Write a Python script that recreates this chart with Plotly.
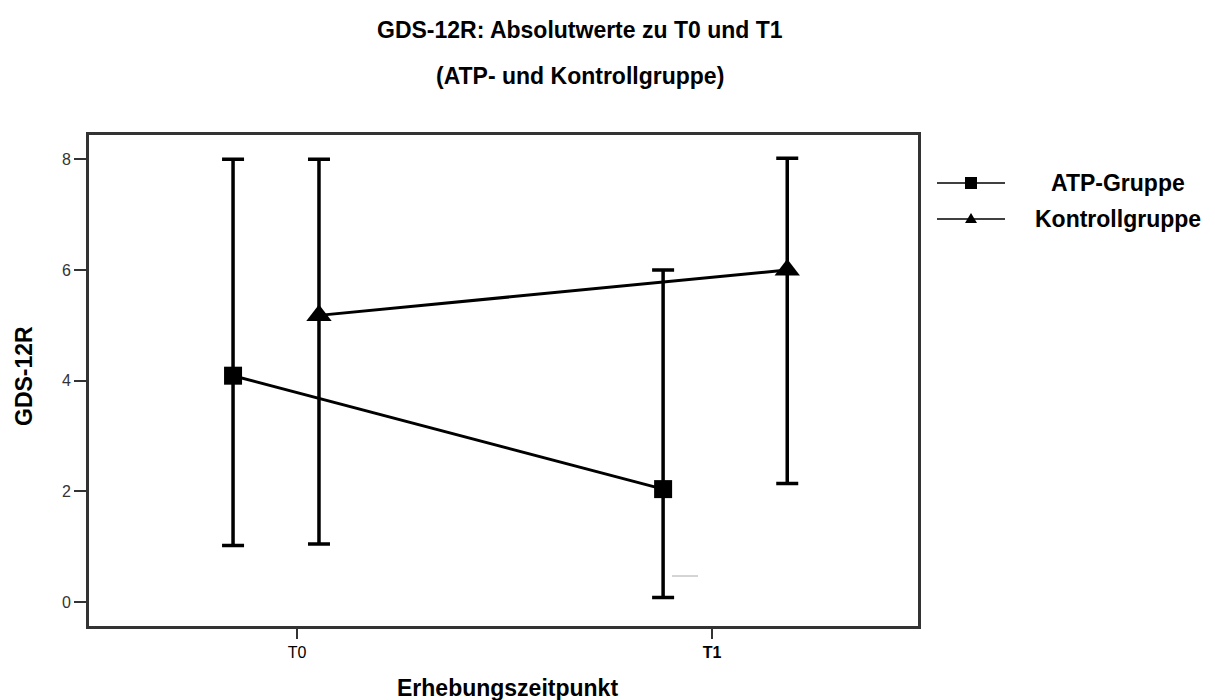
import plotly.graph_objects as go

# ---- data ----
zeitpunkte = ["T0", "T1"]
gruppen = ["ATP-Gruppe", "Kontrollgruppe"]
mittel = {"ATP-Gruppe": [4.09, 2.04], "Kontrollgruppe": [5.18, 6.0]}
untere = {"ATP-Gruppe": [1.02, 0.08], "Kontrollgruppe": [1.05, 2.14]}
obere = {"ATP-Gruppe": [8.0, 6.0], "Kontrollgruppe": [8.0, 8.02]}
y_ticks = [0, 2, 4, 6, 8]

# ---- style / layout ----
versatz = {"ATP-Gruppe": [-0.154, -0.118], "Kontrollgruppe": [0.053, 0.181]}
symbole = {"ATP-Gruppe": "square", "Kontrollgruppe": "triangle-up"}
groessen = {"ATP-Gruppe": 18, "Kontrollgruppe": 22}
FONT = "Liberation Sans, Arial, sans-serif"
L, R, T, B = 89, 297, 135, 74
W, H = 1215, 700
PW, PH = W - L - R, H - T - B


def px_x(px):
    return (px - L) / PW


def px_y(py):
    return (H - B - py) / PH


fig = go.Figure()
for g in gruppen:
    xs = [i + versatz[g][i] for i in range(len(zeitpunkte))]
    m = mittel[g]
    fig.add_trace(go.Scatter(
        x=xs, y=m, mode="lines+markers", name=g, showlegend=False,
        line=dict(color="black", width=3),
        marker=dict(symbol=symbole[g], size=groessen[g], color="black"),
        error_y=dict(type="data", symmetric=False,
                     array=[o - v for o, v in zip(obere[g], m)],
                     arrayminus=[v - u for u, v in zip(untere[g], m)],
                     color="black", thickness=3.5, width=11),
    ))

annotations = [
    dict(text="<b>GDS-12R: Absolutwerte zu T0 und T1</b>", x=px_x(580), y=px_y(30)),
    dict(text="<b>(ATP- und Kontrollgruppe)</b>", x=px_x(580), y=px_y(76)),
    dict(text="<b>Erhebungszeitpunkt</b>", x=px_x(507), y=px_y(688)),
    dict(text="<b>GDS-12R</b>", x=px_x(24), y=px_y(376), textangle=-90),
]
for a in annotations:
    a.update(xref="paper", yref="paper", xanchor="center", yanchor="middle",
             showarrow=False, font=dict(size=23, family=FONT, color="black"))

shapes = []
# manual legend
leg_rows = [183, 219]
for g, row in zip(gruppen, leg_rows):
    shapes.append(dict(type="line", xref="paper", yref="paper",
                       x0=px_x(937), x1=px_x(1005), y0=px_y(row), y1=px_y(row),
                       line=dict(color="black", width=1.5)))
    if symbole[g] == "square":
        shapes.append(dict(type="rect", xref="paper", yref="paper",
                           xsizemode="pixel", ysizemode="pixel",
                           xanchor=px_x(971), yanchor=px_y(row),
                           x0=-6, x1=6, y0=-6, y1=6,
                           fillcolor="black", line=dict(width=0)))
    else:
        shapes.append(dict(type="path", xref="paper", yref="paper",
                           xsizemode="pixel", ysizemode="pixel",
                           xanchor=px_x(971), yanchor=px_y(row),
                           path="M -6,-4 L 6,-4 L 0,6 Z",
                           fillcolor="black", line=dict(width=0)))
    annotations.append(dict(text="<b>" + g + "</b>", xref="paper", yref="paper",
                            x=px_x(1118), y=px_y(row), xanchor="center",
                            yanchor="middle", showarrow=False,
                            font=dict(size=23, family=FONT, color="black")))
# small grey stroke present in the original graphic
shapes.append(dict(type="line", xref="paper", yref="paper",
                   x0=px_x(672), x1=px_x(698), y0=px_y(576), y1=px_y(576),
                   line=dict(color="#aaaaaa", width=1)))

fig.update_layout(
    width=W, height=H,
    paper_bgcolor="white", plot_bgcolor="white",
    margin=dict(l=L, r=R, t=T, b=B, autoexpand=False),
    font=dict(family=FONT, color="black"),
    showlegend=False,
    annotations=annotations,
    shapes=shapes,
)
fig.update_xaxes(
    range=[-0.501, 1.496], tickmode="array", tickvals=[0, 1],
    ticktext=[zeitpunkte[0], "<b>" + zeitpunkte[1] + "</b>"],
    ticks="outside", ticklen=10, tickwidth=2, tickcolor="#333",
    showline=True, linewidth=3, linecolor="#333", mirror=True,
    showgrid=False, zeroline=False,
    tickfont=dict(size=16, family=FONT, color="black"),
)
fig.update_yaxes(
    range=[-0.434, 8.44], tickmode="array", tickvals=y_ticks,
    ticks="outside", ticklen=12, tickwidth=2, tickcolor="#333",
    showline=True, linewidth=3, linecolor="#333", mirror=True,
    showgrid=False, zeroline=False,
    tickfont=dict(size=16, family=FONT, color="#333"),
)

fig.write_html("out.html", config={"displayModeBar": False},
               post_script="document.body.style.margin='0px';")
